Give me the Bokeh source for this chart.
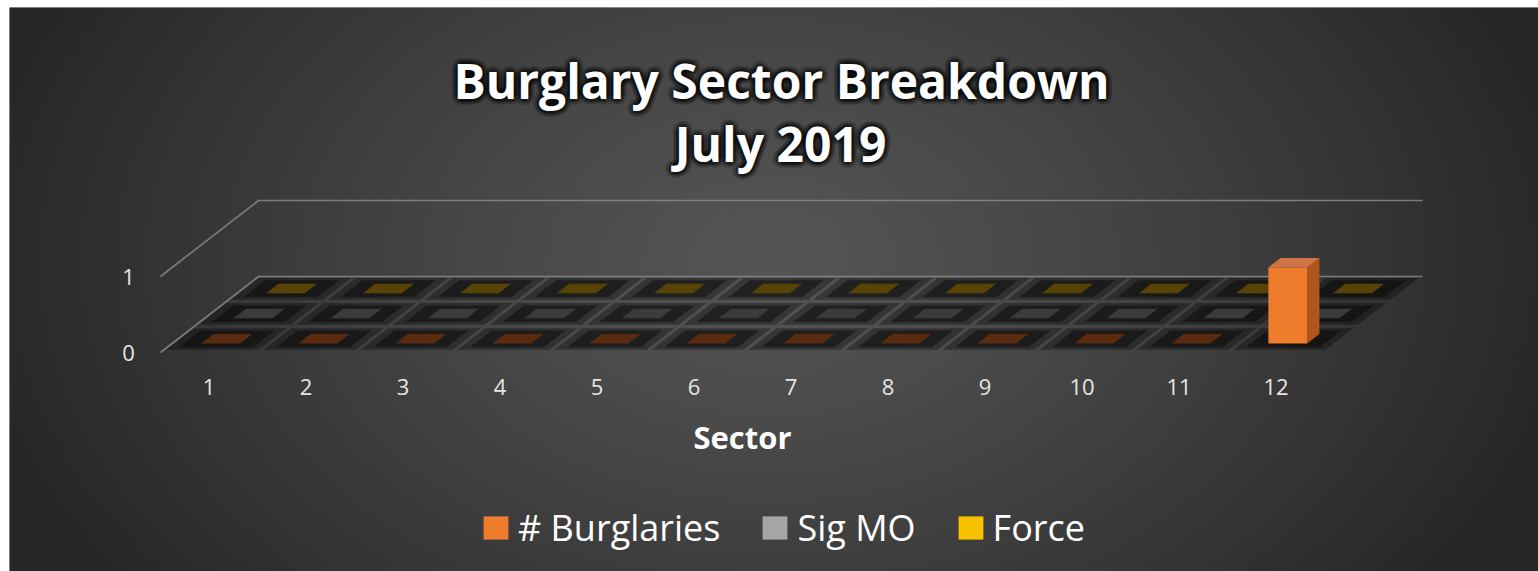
import numpy as np
from bokeh.plotting import figure
from bokeh.models import Range1d, Legend, LegendItem, ColumnDataSource
from bokeh.embed import file_html
from bokeh.resources import INLINE
from bokeh.core.properties import value

# ---------------- data ----------------
sectors = [1, 2, 3, 4, 5, 6, 7, 8, 9, 10, 11, 12]
burglaries = [0, 0, 0, 0, 0, 0, 0, 0, 0, 0, 0, 1]
sig_mo = [0, 0, 0, 0, 0, 0, 0, 0, 0, 0, 0, 0]
force = [0, 0, 0, 0, 0, 0, 0, 0, 0, 0, 0, 0]
series_names = ["# Burglaries", "Sig MO", "Force"]
value_ticks = [0, 1]
title_lines = ["Burglary Sector Breakdown", "July 2019"]
x_title = "Sector"

# ---------------- style ----------------
front_colors = ["#ef7b2c", "#a5a5a5", "#f7c000"]
side_colors = ["#b0561c", "#7a7a7a", "#b88f00"]
top_colors = ["#cf7442", "#bcbcbc", "#ffd54a"]
floor_colors = ["#5b2b10", "#3b3b3b", "#574405"]
FONT = "Open Sans"

TOTAL_W, TOTAL_H = 1538, 571
BL, BT = 9, 7                # white border left / top
W, H = TOTAL_W - BL, TOTAL_H - BT
KX, KY = 97.0, 76.0          # pixels per unit (sector / value)
OX = 160.0 - BL              # origin inside the frame, from left
OY = TOTAL_H - 352.0         # origin inside the frame, from bottom
DX, DY = 98.0 / 97.0, 1.0    # oblique depth projection
ZF = [0.12, 0.45, 0.78]      # depth of each series row
TD = 0.125                   # bar depth
TW = 0.40                    # bar width


def X_of(px):
    return (px - BL - OX) / KX


def Y_of(py):
    return (TOTAL_H - py - OY) / KY


def proj(x, y, z):
    return x + z * DX, y + z * DY


def poly(pts):
    pr = [proj(*q) for q in pts]
    return [a for a, _ in pr], [b for _, b in pr]


x0r, x1r = -OX / KX, (W - OX) / KX
y0r, y1r = -OY / KY, (H - OY) / KY

p = figure(width=TOTAL_W, height=TOTAL_H, x_range=Range1d(x0r, x1r), y_range=Range1d(y0r, y1r),
           output_backend="svg", toolbar_location=None,
           min_border_left=BL, min_border_top=BT, min_border_right=0, min_border_bottom=0,
           x_axis_location=None, y_axis_location=None)
p.grid.visible = False
p.outline_line_color = None
p.background_fill_color = "#383838"
p.border_fill_color = "white"

# ---------------- background radial gradient ----------------
nx, ny = W // 2, H // 2
gx = BL + (np.arange(nx) + 0.5) * W / nx
gy = TOTAL_H - (np.arange(ny) + 0.5) * H / ny
GX, GY = np.meshgrid(gx, gy)
r = np.sqrt(((GX - 770) / 820.0) ** 2 + ((GY - 260) / 560.0) ** 2)
c = 85 - 47 * np.clip(r, 0, 1) ** 1.2
rgba = np.zeros((ny, nx, 4), dtype=np.uint8)
rgba[..., 0] = c
rgba[..., 1] = c
rgba[..., 2] = c
rgba[..., 3] = 255
img = rgba.view(dtype=np.uint32).reshape((ny, nx))
p.image_rgba(image=[img], x=x0r, y=y0r, dw=x1r - x0r, dh=y1r - y0r)

# ---------------- walls / gridlines ----------------
n = len(sectors)
gl_xs, gl_ys = [], []
for t in value_ticks:
    xs_, ys_ = poly([(0, t, 0), (0, t, 1), (n, t, 1)])
    gl_xs.append(xs_)
    gl_ys.append(ys_)
p.multi_line(xs=gl_xs, ys=gl_ys, line_color="#858585", line_width=1.6, line_alpha=0.9)

# ---------------- floor shadows ----------------
series = [burglaries, sig_mo, force]
for gap, zin, zout, alpha in [(0.025, 0.085, 0.075, 0.33), (0.12, 0.05, 0.045, 0.40)]:
    sx, sy = [], []
    for k in range(3):
        z0 = ZF[k]
        z1 = z0 + TD
        for s in sectors:
            xs_, ys_ = poly([(s - 1 + gap, 0, z0 - zin), (s - gap, 0, z0 - zin),
                             (s - gap, 0, z1 + zout), (s - 1 + gap, 0, z1 + zout)])
            sx.append(xs_)
            sy.append(ys_)
    p.patches(xs=sx, ys=sy, fill_color="black", fill_alpha=alpha, line_color=None)

# ---------------- bars (back row first) ----------------
front_renderers = {}
for k in reversed(range(3)):
    vals = series[k]
    z0 = ZF[k]
    z1 = z0 + TD
    top_xs, top_ys, top_c = [], [], []
    side_xs, side_ys = [], []
    for s, v in zip(sectors, vals):
        xc = s - 0.5
        bx0, bx1 = xc - TW / 2, xc + TW / 2
        xs_, ys_ = poly([(bx0, v, z0), (bx1, v, z0), (bx1, v, z1), (bx0, v, z1)])
        top_xs.append(xs_)
        top_ys.append(ys_)
        top_c.append(top_colors[k] if v > 0 else floor_colors[k])
        if v > 0:
            xs_, ys_ = poly([(bx1, 0, z0), (bx1, 0, z1), (bx1, v, z1), (bx1, v, z0)])
            side_xs.append(xs_)
            side_ys.append(ys_)
    if side_xs:
        p.patches(xs=side_xs, ys=side_ys, fill_color=side_colors[k], line_color=None)
    fsrc = ColumnDataSource(dict(
        left=[s - 0.5 - TW / 2 + z0 * DX for s in sectors],
        right=[s - 0.5 + TW / 2 + z0 * DX for s in sectors],
        bottom=[z0 * DY for _ in sectors],
        top=[v + z0 * DY for v in vals],
    ))
    front_renderers[k] = p.quad(left="left", right="right", bottom="bottom", top="top",
                                source=fsrc, fill_color=front_colors[k], line_color=None)
    tsrc = ColumnDataSource(dict(xs=top_xs, ys=top_ys, c=top_c))
    p.patches(xs="xs", ys="ys", fill_color="c", line_color=None, source=tsrc)

# ---------------- axis labels ----------------
p.text(x=[X_of(128)] * len(value_ticks), y=value_ticks, text=[str(t) for t in value_ticks],
       text_align="center", text_baseline="middle", text_color="#e6e6e6",
       text_font=value(FONT), text_font_size="22px")
p.text(x=[s - 0.5 for s in sectors], y=[Y_of(386)] * n, text=[str(s) for s in sectors],
       text_align="center", text_baseline="middle", text_color="#e6e6e6",
       text_font=value(FONT), text_font_size="22px")
p.text(x=[n / 2], y=[Y_of(436)], text=[x_title], text_align="center", text_baseline="middle",
       text_color="white", text_font=value(FONT), text_font_style="bold", text_font_size="31px")

# ---------------- title with glow ----------------
tx = [X_of(781), X_of(780)]
ty = [Y_of(80), Y_of(143)]
ang = np.linspace(0, 2 * np.pi, 12, endpoint=False)
sh = dict(x=[], y=[], text=[], xo=[], yo=[])
for rad in (6.0, 3.0):
    for a in ang:
        for i in range(2):
            sh["x"].append(tx[i])
            sh["y"].append(ty[i])
            sh["text"].append(title_lines[i])
            sh["xo"].append(float(rad * np.cos(a)))
            sh["yo"].append(float(rad * np.sin(a)))
p.text(x="x", y="y", text="text", x_offset="xo", y_offset="yo", source=ColumnDataSource(sh),
       text_align="center", text_baseline="alphabetic", text_color="black", text_alpha=0.12,
       text_font=value(FONT), text_font_style="bold", text_font_size="48px")
p.text(x=tx, y=ty, text=title_lines, text_align="center", text_baseline="alphabetic",
       text_color="white", text_font=value(FONT), text_font_style="bold", text_font_size="48px")

# ---------------- legend ----------------
legend = Legend(items=[LegendItem(label=series_names[k], renderers=[front_renderers[k]]) for k in range(3)],
                orientation="horizontal", location=(471, 19),
                label_text_font=FONT, label_text_font_size="36px", label_text_color="white",
                glyph_width=31, glyph_height=29, label_standoff=7, spacing=39,
                padding=0, margin=0, background_fill_alpha=0, border_line_alpha=0)
p.add_layout(legend)

open("out.html", "w").write(file_html(p, INLINE))
